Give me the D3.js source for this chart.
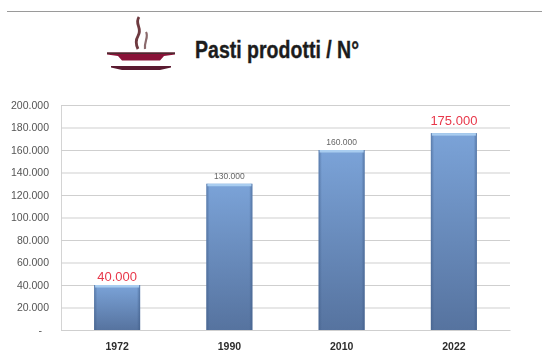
<!DOCTYPE html>
<html><head><meta charset="utf-8">
<script src="https://cdn.jsdelivr.net/npm/d3@7"></script>
<style>html,body{margin:0;padding:0;background:#fff}svg{display:block}</style>
</head><body><div id="c"></div>
<script>
const categories = ["1972","1990","2010","2022"];
const values = [40000,130000,160000,175000];
const valueLabels = ["40.000","130.000","160.000","175.000"];
const highlighted = [true,false,false,true];
const tickValues = [0,20000,40000,60000,80000,100000,120000,140000,160000,180000,200000];
const titleText = "Pasti prodotti / N°";

const W=542,H=361,L=61,R=510,T=105,B=330;
const svg=d3.select("#c").append("svg").attr("width",W).attr("height",H);
const defs=svg.append("defs");
const g1=defs.append("linearGradient").attr("id","bar").attr("x1",0).attr("x2",0).attr("y1",0).attr("y2",1);
g1.append("stop").attr("offset","0%").attr("stop-color","#7ba3d8");
g1.append("stop").attr("offset","100%").attr("stop-color","#56739f");
const g2=defs.append("linearGradient").attr("id","edge").attr("x1",0).attr("x2",1).attr("y1",0).attr("y2",0);
g2.append("stop").attr("offset","0%").attr("stop-color","#3d5a85").attr("stop-opacity",0.55);
g2.append("stop").attr("offset","7%").attr("stop-color","#3d5a85").attr("stop-opacity",0);
g2.append("stop").attr("offset","93%").attr("stop-color","#3d5a85").attr("stop-opacity",0);
g2.append("stop").attr("offset","100%").attr("stop-color","#3d5a85").attr("stop-opacity",0.6);

svg.append("rect").attr("width",W).attr("height",H).attr("fill","#fff");
svg.append("line").attr("x1",7).attr("x2",W).attr("y1",11.5).attr("y2",11.5).attr("stroke","#9a9a9a").attr("stroke-width",1);

const x=d3.scaleBand().domain(categories).range([L,R]).paddingInner(0.59).paddingOuter(0.295);
const y=d3.scaleLinear().domain([0,200000]).range([B,T]);

const chart=svg.append("g").style("filter","blur(0.6px)");
const fmt=v=>v===0?"-":d3.format(",")(v).replace(/,/g,".");
const yAxis=d3.axisLeft(y).tickValues(tickValues).tickFormat(fmt).tickSize(-(R-L)).tickPadding(12);
const ya=chart.append("g").attr("transform",`translate(${L},0)`).call(yAxis);
ya.select(".domain").attr("stroke","#d4d4d4");
ya.selectAll(".tick line").attr("stroke","#cfcfcf").attr("stroke-width",1.2);
ya.selectAll(".tick text").attr("fill","#555").style("font","10.5px 'Liberation Sans'")
  .attr("dx",d=>d===0?-7:0);

const xAxis=d3.axisBottom(x).tickSize(0).tickPadding(12);
const xa=chart.append("g").attr("transform",`translate(0,${B})`).call(xAxis);
xa.select(".domain").attr("stroke","#cfcfcf");
xa.selectAll(".tick text").attr("fill","#2c2c2c").attr("dy","0.8em").style("font","bold 10.5px 'Liberation Sans'");

const rows=categories.map((c,i)=>({c,v:values[i],l:valueLabels[i],h:highlighted[i]}));
chart.selectAll("rect.b").data(rows).join("rect").attr("class","b")
 .attr("x",d=>x(d.c)).attr("y",d=>y(d.v)).attr("width",x.bandwidth()).attr("height",d=>B-y(d.v))
 .attr("fill","url(#bar)");
chart.selectAll("rect.e").data(rows).join("rect").attr("class","e")
 .attr("x",d=>x(d.c)).attr("y",d=>y(d.v)).attr("width",x.bandwidth()).attr("height",d=>B-y(d.v))
 .attr("fill","url(#edge)");
chart.selectAll("rect.s").data(rows).join("rect").attr("class","s")
 .attr("x",d=>x(d.c)+1).attr("y",d=>y(d.v)).attr("width",x.bandwidth()-2).attr("height",2.5).attr("fill","#a9cdf0");
chart.selectAll("text.v").data(rows).join("text").attr("class","v")
 .attr("x",d=>x(d.c)+x.bandwidth()/2).attr("y",d=>y(d.v)-(d.v===175000?8.5:d.h?4.5:5)).attr("text-anchor","middle")
 .attr("fill",d=>d.h?"#e8384a":"#666").style("font",d=>d.h?"13px 'Liberation Sans'":"8.5px 'Liberation Sans'").text(d=>d.l);

svg.append("text").attr("x",195).attr("y",58).attr("fill","#1c1c1c").attr("stroke","#1c1c1c").attr("stroke-width",0.35)
 .attr("textLength",164).attr("lengthAdjust","spacingAndGlyphs")
 .style("font","bold 23px 'Liberation Sans'").text(titleText);

const icon=svg.append("g").style("filter","blur(0.4px)");
icon.append("path").attr("fill","#8a1238").attr("d","M107 52.5H175V54.5L164 56L160 60.5H122L118 56L107 54.5Z");
icon.append("path").attr("fill","#5a1a30").attr("d","M111 66H171V67.5L160 70H122L111 67.5Z");
icon.append("rect").attr("x",107).attr("y",52.5).attr("width",68).attr("height",1.5).attr("fill","#4a2a2f");
icon.append("path").attr("fill","none").attr("stroke","#6e3a40").attr("stroke-width",2.8).attr("d","M139 17C134 24 143 28 138 36C135 41 136 45 138 49");
icon.append("path").attr("fill","none").attr("stroke","#8a6a6c").attr("stroke-width",2.2).attr("d","M146 32C149 37 144 41 145 49");
</script></body></html>
